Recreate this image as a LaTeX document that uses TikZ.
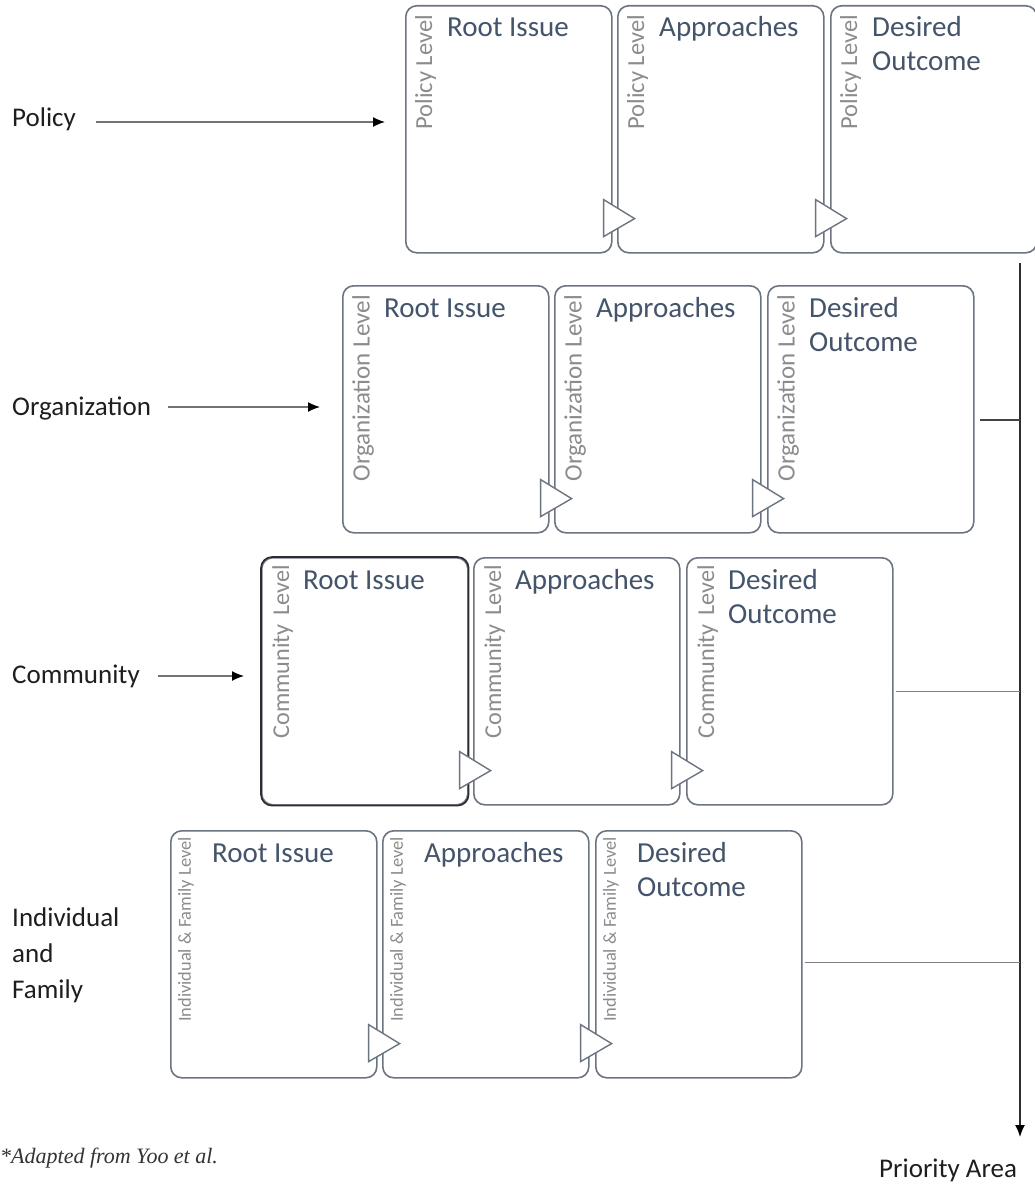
\documentclass[tikz,border=0pt]{standalone}
\usepackage{fontspec}
\setmainfont{Carlito}
\newfontfamily\notefont{Liberation Serif}
\usetikzlibrary{arrows.meta,calc}
\definecolor{boxline}{RGB}{108,116,130}
\definecolor{darkline}{RGB}{45,45,50}
\definecolor{titlecol}{RGB}{68,84,106}
\definecolor{sidecol}{RGB}{140,140,140}
\definecolor{lblcol}{RGB}{30,30,30}
\begin{document}
\begin{tikzpicture}[x=1pt,y=-1pt,
  card/.style={draw=boxline, line width=1.6pt, rounded corners=11pt, fill=white,
    minimum width=206pt, minimum height=247pt, anchor=north west, inner sep=0pt},
  title/.style={anchor=base west, inner sep=0pt, text=titlecol,
    font=\fontsize{29}{34}\selectfont, align=left},
  side/.style={rotate=90, anchor=north east, inner sep=0pt, text=sidecol},
  tri/.style={draw=boxline, line width=1.4pt, fill=white, line join=miter},
  lvl/.style={anchor=base west, inner sep=0pt, text=lblcol,
    font=\fontsize{27}{36}\selectfont, align=left},
  lvlarrow/.style={draw=black!55, line width=1.3pt,
    -{Latex[length=12pt,width=10pt,color=black]}},
  flow/.style={draw=darkline, line width=1.5pt,
    -{Latex[length=12pt,width=10pt,color=black]}},
  feed/.style={line width=1.4pt},
]
\useasboundingbox (0,0) rectangle (1034,1185);

% boxes
\foreach \r/\x/\y in {1/405/5, 2/342/285, 3/261/557, 4/170/830}{
  \node[card] (r\r a) at (\x,\y) {};
  \node[card] (r\r b) at (\x+212,\y) {};
  \node[card] (r\r c) at (\x+425,\y) {};
}
\draw[darkline, line width=1.6pt, rounded corners=11pt]
  (r3a.north west) rectangle (r3a.south east);

% triangles, titles, side labels
\foreach \r/\x/\y/\lab/\fs/\dx/\dy in {
  1/405/5/{Policy Level}/24.5/10/10,
  2/342/285/{Organization Level}/25/10/10,
  3/261/557/{Community\hspace{0.35em}Level}/24.2/11/8,
  4/170/830/{Individual \& Family Level}/18.4/8/7}{
  \draw[tri] ($(r\r a.south east)+(-9,-54)$) -- ($(r\r a.south east)+(22,-35)$)
    -- ($(r\r a.south east)+(-9,-17)$) -- cycle;
  \draw[tri] ($(r\r b.south east)+(-9,-54)$) -- ($(r\r b.south east)+(22,-35)$)
    -- ($(r\r b.south east)+(-9,-17)$) -- cycle;
  \node[title] (t\r a) at (\x+42,\y+32) {Root Issue};
  \node[title] (t\r b) at (\x+212+42,\y+32) {Approaches};
  \node[title] (t\r c) at (\x+425+42,\y+66) {Desired\\Outcome};
  \node[side, font=\fontsize{\fs}{\fs}\selectfont] (s\r a) at (\x+\dx,\y+\dy) {\lab};
  \node[side, font=\fontsize{\fs}{\fs}\selectfont] (s\r b) at (\x+212+\dx,\y+\dy) {\lab};
  \node[side, font=\fontsize{\fs}{\fs}\selectfont] (s\r c) at (\x+425+\dx,\y+\dy) {\lab};
}

% level labels
\node[lvl] (L1) at (12,127) {Policy};
\node[lvl] (L2) at (12,415) {Organization};
\node[lvl] (L3) at (12,683) {Community};
\node[lvl] (L4) at (12,998) {Individual\\and\\Family};

\draw[lvlarrow] ($(L1.base east)+(20,-5)$) -- ($(L1.base east -| r1a.west)+(-20,-5)$);
\draw[lvlarrow] ($(L2.base east)+(17,-8)$) -- ($(L2.base east -| r2a.west)+(-22,-8)$);
\draw[lvlarrow] ($(L3.base east)+(18,-7)$) -- ($(L3.base east -| r3a.west)+(-17,-7)$);

% priority flow
\coordinate (pt) at (1020,263);
\coordinate (pb) at (1020,1137);
\draw[flow] (pt) -- (pb);
\draw[feed, draw=darkline!90, line width=1.8pt] ($(r2c.east)+(5,11)$) -- ($(r2c.east -| pt)+(0,11)$);
\draw[feed, draw=black!50] ($(r3c.east)+(2,10)$) -- ($(r3c.east -| pt)+(0,10)$);
\draw[feed, draw=black!50] ($(r4c.east)+(2,8)$) -- ($(r4c.east -| pt)+(0,8)$);

\node[lvl] (pa) at (879,1177) {Priority Area};
\node[anchor=base west, inner sep=0pt, text=black!80,
  font=\notefont\itshape\fontsize{22}{22}\selectfont] (fn) at (0,1163) {*Adapted from Yoo et al.};
\end{tikzpicture}
\end{document}
